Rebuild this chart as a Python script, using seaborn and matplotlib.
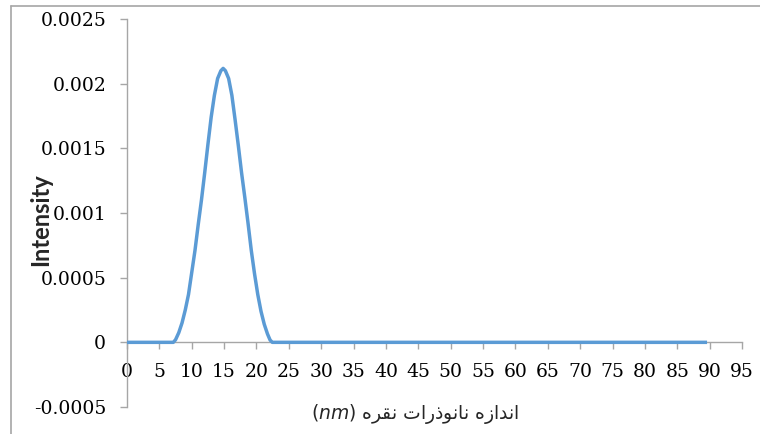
import numpy as np
import pandas as pd
import matplotlib
matplotlib.use('Agg')
import matplotlib.pyplot as plt
from matplotlib.lines import Line2D
import seaborn as sns

sns.set_style('white')

# particle size (nm) and intensity
size_nm = [0, 7.15, 7.5, 8, 8.5, 9, 9.5, 10, 10.5, 11, 11.5, 12, 12.5, 13, 13.5, 14, 14.5,
           14.85, 15.2, 15.7, 16.2, 16.7, 17.2, 17.7, 18.2, 18.7, 19.2, 19.7, 20.2, 20.7,
           21.2, 21.7, 22.1, 22.45, 89.6]
intensity = [0, 0, 0.00002, 0.000075, 0.00015, 0.00025, 0.00037, 0.00054, 0.00071, 0.00091,
             0.00110, 0.00131, 0.00153, 0.00174, 0.00191, 0.00204, 0.00210,
             0.002118, 0.00210, 0.00204, 0.00191, 0.00172, 0.00152, 0.00131, 0.00112,
             0.00092, 0.00071, 0.00053, 0.00037, 0.00024, 0.00014, 0.000065, 0.000018, 0, 0]

x_ticks = list(range(0, 100, 5))
y_ticks = [-0.0005, 0, 0.0005, 0.001, 0.0015, 0.002, 0.0025]
y_tick_labels = ['-0.0005', '0', '0.0005', '0.001', '0.0015', '0.002', '0.0025']

# "اندازه نانوذرات نقره" pre-shaped (presentation forms, visual order) since matplotlib has no RTL shaping
word1 = '\uFE8D\uFEE7\uFEAA\uFE8D\uFEAF\uFEE9'             # اندازه
word2 = '\uFEE7\uFE8E\uFEE7\uFEEE\uFEAB\uFEAD\uFE8D\uFE95'  # نانوذرات
word3 = '\uFEE7\uFED8\uFEAE\uFEE9'                         # نقره
arabic_visual = (word1 + ' ' + word2 + ' ' + word3)[::-1]
xlabel_text = r'($\mathit{nm}$) ' + arabic_visual

df = pd.DataFrame({'size': size_nm, 'intensity': intensity})

fig = plt.figure(figsize=(7.6, 4.34), dpi=100)
ax = fig.add_axes([127 / 760, 1 - 407 / 434, (742 - 127) / 760, (407 - 19) / 434])

sns.lineplot(data=df, x='size', y='intensity', ax=ax, color='#5B9BD5', linewidth=2.5)
for ln in ax.get_lines():
    ln.set_solid_joinstyle('round')
    ln.set_solid_capstyle('butt')

ax.set_xlim(0, 95)
ax.set_ylim(-0.0005, 0.0025)
ax.set_yticks(y_ticks)
ax.set_yticklabels(y_tick_labels)
ax.set_xticks(x_ticks)
ax.set_xticklabels([str(t) for t in x_ticks])

# excel style: x axis crosses at zero
ax.spines['bottom'].set_position(('data', 0))
ax.spines['top'].set_visible(False)
ax.spines['right'].set_visible(False)
for s in ['bottom', 'left']:
    ax.spines[s].set_color('#A6A6A6')
    ax.spines[s].set_linewidth(1.0)
    ax.spines[s].set_zorder(1)
ax.tick_params(axis='both', direction='out', length=5, width=1, color='#A6A6A6')
ax.tick_params(axis='y', pad=10, left=True)
ax.tick_params(axis='x', pad=10, bottom=True)
for lab in ax.get_xticklabels() + ax.get_yticklabels():
    lab.set_family('DejaVu Serif')
    lab.set_fontsize(13.5)
    lab.set_color('black')

ax.set_xlabel('')
ax.set_ylabel('')
fig.text(41 / 760, 1 - 220 / 434, 'Intensity', rotation=90, ha='center', va='center',
         family='Lato', fontweight='bold', fontsize=17)
fig.text(415 / 760, 1 - 414 / 434, xlabel_text, ha='center', va='center',
         family='DejaVu Sans', fontsize=13.5)

# chart area border (top and left visible)
fig.add_artist(Line2D([11 / 760, 1], [1 - 5.5 / 434, 1 - 5.5 / 434], color='#A6A6A6', lw=1.2,
                      transform=fig.transFigure))
fig.add_artist(Line2D([11 / 760, 11 / 760], [0, 1 - 5.5 / 434], color='#A6A6A6', lw=1.2,
                      transform=fig.transFigure))

fig.savefig('out.png', dpi=100)
